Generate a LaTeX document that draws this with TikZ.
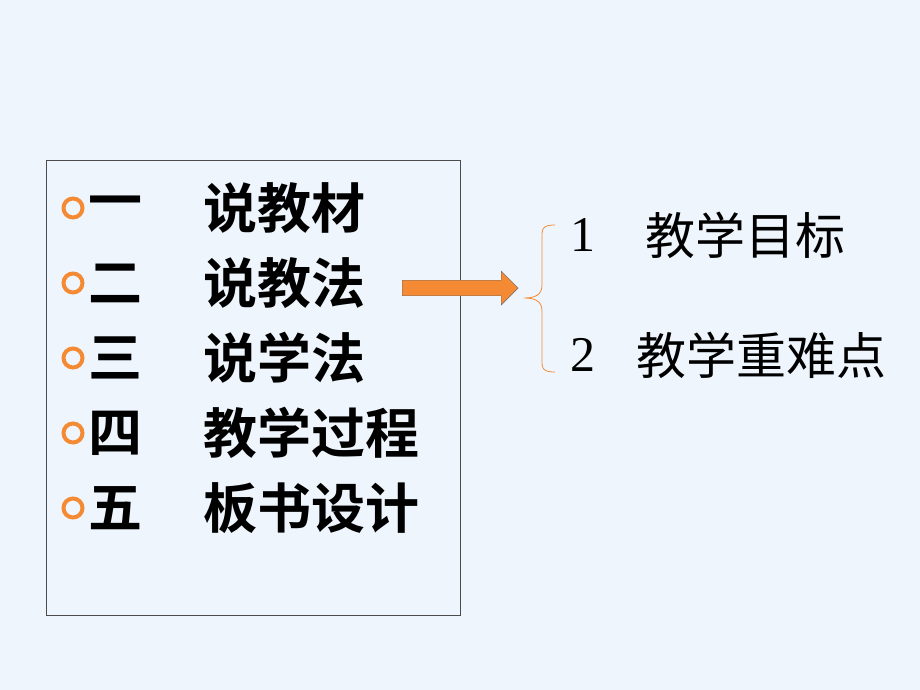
\documentclass[tikz,border=0pt]{standalone}
\usepackage{fontspec}
\newfontfamily\cjk{Noto Sans CJK SC}
\newfontfamily\cjkb{Noto Sans CJK SC Bold}
\setmainfont{Liberation Serif}
\usetikzlibrary{shapes.arrows}
\definecolor{bg}{HTML}{EEF5FC}
\definecolor{org}{HTML}{F58A34}
\begin{document}
\begin{tikzpicture}[x=1pt,y=-1pt,
  item/.style={anchor=west,inner sep=0,font=\cjkb\fontsize{54}{54}\selectfont},
  rt/.style={anchor=west,inner sep=0,font=\cjk\fontsize{50}{50}\selectfont},
  num/.style={anchor=west,inner sep=0,font=\fontsize{50}{50}\selectfont},
  bul/.style={circle,draw=org,line width=4pt,minimum size=19pt,inner sep=0}]
\fill[bg] (0,0) rectangle (920,690);
\useasboundingbox (0,0) rectangle (920,690);
\node[draw=black!70,line width=0.8pt,minimum width=414pt,minimum height=455pt,anchor=north west] (box) at (46,160) {};
\foreach \i/\a/\b in {0/一/说教材,1/二/说教法,2/三/说学法,3/四/教学过程,4/五/板书设计}{
  \node[bul] (b\i) at (73,{208+75*\i}) {};
  \node[item] (n\i) at (88,{208+75*\i}) {\a};
  \node[item] (t\i) at (203,{208+75*\i}) {\b};
}
\node[single arrow,draw=black!60,fill=org,minimum height=116pt,minimum width=34pt,single arrow head extend=5pt,inner sep=4pt,anchor=west] (arr) at (402,288) {};
\coordinate (bt) at (555,225);
\coordinate (bb) at (555,372);
\draw[org,line width=0.8pt] (bt) .. controls (540,225) and (542,230) .. (542,245) -- (542,285) .. controls (542,295) and (535,298) .. (524,298) .. controls (535,298) and (542,301) .. (542,311) -- (542,352) .. controls (542,367) and (540,372) .. (bb);
\node[num] (r1n) at (570,235) {1};
\node[rt] (r1) at (645,235) {教学目标};
\node[num] (r2n) at (570,355) {2};
\node[rt] (r2) at (636,355) {教学重难点};
\end{tikzpicture}
\end{document}
